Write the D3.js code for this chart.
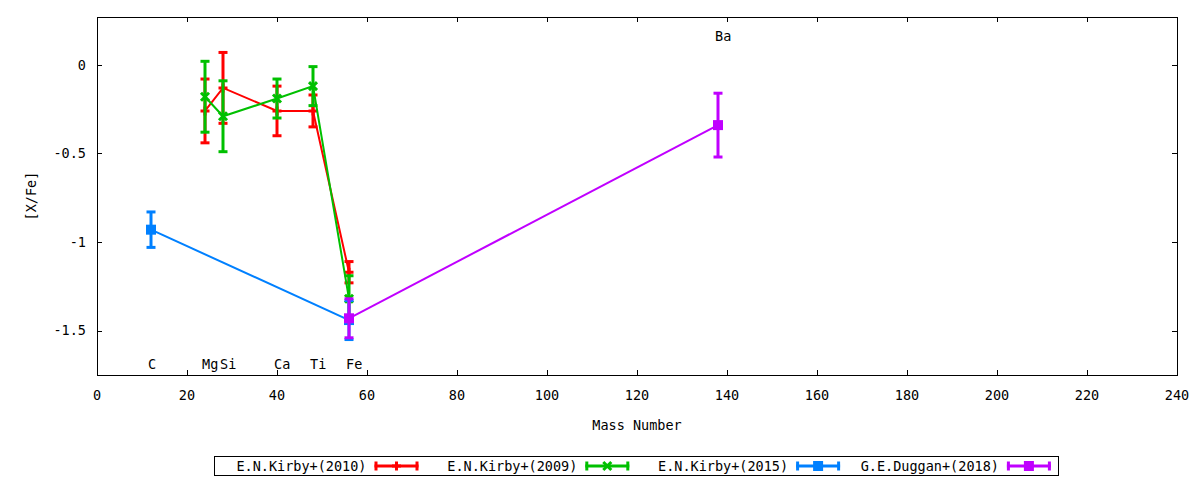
<!DOCTYPE html>
<html>
<head>
<meta charset="utf-8">
<script src="https://cdn.jsdelivr.net/npm/d3@7"></script>
<style>
  body { margin: 0; background: #fff; }
  text { font-family: "DejaVu Sans Mono", monospace; font-size: 13.5px; fill: #000; }
</style>
</head>
<body>
<svg id="viz"></svg>
<script>
var width = 1200;
var height = 480;

// element labels placed at their mass numbers
var elements = ["C", "Mg", "Si", "Ca", "Ti", "Fe", "Ba"];
var elementMass = [12, 24, 28, 40, 48, 56, 138];
var elementLabelY = [-1.69, -1.69, -1.69, -1.69, -1.69, -1.69, 0.16];

// series: mass number, [X/Fe], error
var kirby2010Mass = [24, 28, 40, 48, 56];
var kirby2010Val = [-0.26, -0.13, -0.26, -0.26, -1.17];
var kirby2010Err = [0.18, 0.20, 0.14, 0.09, 0.06];

var kirby2009Mass = [24, 28, 40, 48, 56];
var kirby2009Val = [-0.18, -0.29, -0.19, -0.12, -1.32];
var kirby2009Err = [0.20, 0.20, 0.11, 0.11, 0.13];

var kirby2015Mass = [12, 56];
var kirby2015Val = [-0.93, -1.44];
var kirby2015Err = [0.10, 0.11];

var duggan2018Mass = [56, 138];
var duggan2018Val = [-1.43, -0.34];
var duggan2018Err = [0.11, 0.18];

var xTicks = [0, 20, 40, 60, 80, 100, 120, 140, 160, 180, 200, 220, 240];
var yTicks = [0, -0.5, -1, -1.5];

var series = [
    {name: "E.N.Kirby+(2010)", color: "#ff0000", symbol: "plus", mass: kirby2010Mass, val: kirby2010Val, err: kirby2010Err},
    {name: "E.N.Kirby+(2009)", color: "#00c000", symbol: "cross", mass: kirby2009Mass, val: kirby2009Val, err: kirby2009Err},
    {name: "E.N.Kirby+(2015)", color: "#0080ff", symbol: "square", mass: kirby2015Mass, val: kirby2015Val, err: kirby2015Err},
    {name: "G.E.Duggan+(2018)", color: "#c000ff", symbol: "square", mass: duggan2018Mass, val: duggan2018Val, err: duggan2018Err}
];

// plot frame
var pLeft = 97, pRight = 1177, pTop = 17, pBottom = 375;

var svg = d3.select("#viz").attr("width", width).attr("height", height);

var x = d3.scaleLinear().domain([0, 240]).range([pLeft, pRight]);
var y = d3.scaleLinear().domain([-1.75, 0.27]).range([pBottom, pTop]);

// ticks (inward, mirrored)
var tl = 5;
var axes = svg.append("g").attr("stroke", "#000").attr("stroke-width", 1);
xTicks.forEach(function (t) {
    var px = Math.round(x(t)) + 0.5;
    axes.append("line").attr("x1", px).attr("x2", px).attr("y1", pBottom).attr("y2", pBottom - tl);
    axes.append("line").attr("x1", px).attr("x2", px).attr("y1", pTop).attr("y2", pTop + tl);
});
yTicks.forEach(function (t) {
    var py = Math.round(y(t)) + 0.5;
    axes.append("line").attr("x1", pLeft).attr("x2", pLeft + tl).attr("y1", py).attr("y2", py);
    axes.append("line").attr("x1", pRight).attr("x2", pRight - tl).attr("y1", py).attr("y2", py);
});
svg.append("rect")
    .attr("x", pLeft + 0.5).attr("y", pTop + 0.5)
    .attr("width", pRight - pLeft).attr("height", pBottom - pTop)
    .attr("fill", "none").attr("stroke", "#000");

svg.append("g").selectAll("text")
    .data(xTicks)
    .enter().append("text")
    .attr("x", function (d) { return x(d); })
    .attr("y", 400)
    .attr("text-anchor", "middle")
    .text(function (d) { return d; });

svg.append("g").selectAll("text")
    .data(yTicks)
    .enter().append("text")
    .attr("x", 86)
    .attr("y", function (d) { return y(d); })
    .attr("dy", "0.35em")
    .attr("text-anchor", "end")
    .text(function (d) { return d; });

svg.append("text")
    .attr("x", (pLeft + pRight) / 2).attr("y", 430)
    .attr("text-anchor", "middle")
    .text("Mass Number");

svg.append("text")
    .attr("transform", "translate(36," + (pTop + pBottom) / 2 + ") rotate(-90)")
    .attr("text-anchor", "middle")
    .text("[X/Fe]");

// element names
svg.append("g").selectAll("text")
    .data(elements)
    .enter().append("text")
    .attr("x", function (d, i) { return x(elementMass[i]) - 3; })
    .attr("y", function (d, i) { return y(elementLabelY[i]); })
    .attr("dy", "0.35em")
    .text(function (d) { return d; });

function drawSymbol(g, sym, cx, cy, color) {
    if (sym === "plus") {
        g.append("path").attr("d", "M" + (cx - 4.5) + "," + cy + "H" + (cx + 4.5) + "M" + cx + "," + (cy - 4.5) + "V" + (cy + 4.5))
            .attr("stroke", color).attr("stroke-width", 3).attr("fill", "none");
    } else if (sym === "cross") {
        g.append("path").attr("d", "M" + (cx - 4) + "," + (cy - 4) + "L" + (cx + 4) + "," + (cy + 4) + "M" + (cx - 4) + "," + (cy + 4) + "L" + (cx + 4) + "," + (cy - 4))
            .attr("stroke", color).attr("stroke-width", 3).attr("fill", "none");
    } else {
        g.append("rect").attr("x", cx - 5).attr("y", cy - 5).attr("width", 10).attr("height", 10).attr("fill", color);
    }
}

var line = d3.line()
    .x(function (d) { return x(d[0]); })
    .y(function (d) { return y(d[1]); });

series.forEach(function (s) {
    var g = svg.append("g");
    var pts = s.mass.map(function (m, i) { return [m, s.val[i], s.err[i]]; });
    g.append("path")
        .attr("d", line(pts))
        .attr("fill", "none")
        .attr("stroke", s.color)
        .attr("stroke-width", 2);
    pts.forEach(function (p) {
        var cx = x(p[0]), y1 = y(p[1] + p[2]), y2 = y(p[1] - p[2]);
        g.append("line").attr("x1", cx).attr("x2", cx).attr("y1", y1).attr("y2", y2)
            .attr("stroke", s.color).attr("stroke-width", 3);
        [y1, y2].forEach(function (cy) {
            g.append("line").attr("x1", cx - 4.5).attr("x2", cx + 4.5).attr("y1", cy).attr("y2", cy)
                .attr("stroke", s.color).attr("stroke-width", 3);
        });
        drawSymbol(g, s.symbol, cx, y(p[1]), s.color);
    });
});

// legend
svg.append("rect")
    .attr("x", 214.5).attr("y", 456.5).attr("width", 844).attr("height", 19)
    .attr("fill", "none").attr("stroke", "#000");

series.forEach(function (s, i) {
    var g = svg.append("g");
    var x0 = 374.5 + i * 210.8, ly = 466;
    g.append("text").attr("x", x0 - 8).attr("y", ly).attr("dy", "0.35em")
        .attr("text-anchor", "end").text(s.name);
    g.append("line").attr("x1", x0).attr("x2", x0 + 44).attr("y1", ly).attr("y2", ly)
        .attr("stroke", s.color).attr("stroke-width", 3);
    [x0 + 1.5, x0 + 42.5].forEach(function (cx) {
        g.append("line").attr("x1", cx).attr("x2", cx).attr("y1", ly - 4.5).attr("y2", ly + 4.5)
            .attr("stroke", s.color).attr("stroke-width", 3);
    });
    drawSymbol(g, s.symbol, x0 + 22, ly, s.color);
});
</script>
</body>
</html>
